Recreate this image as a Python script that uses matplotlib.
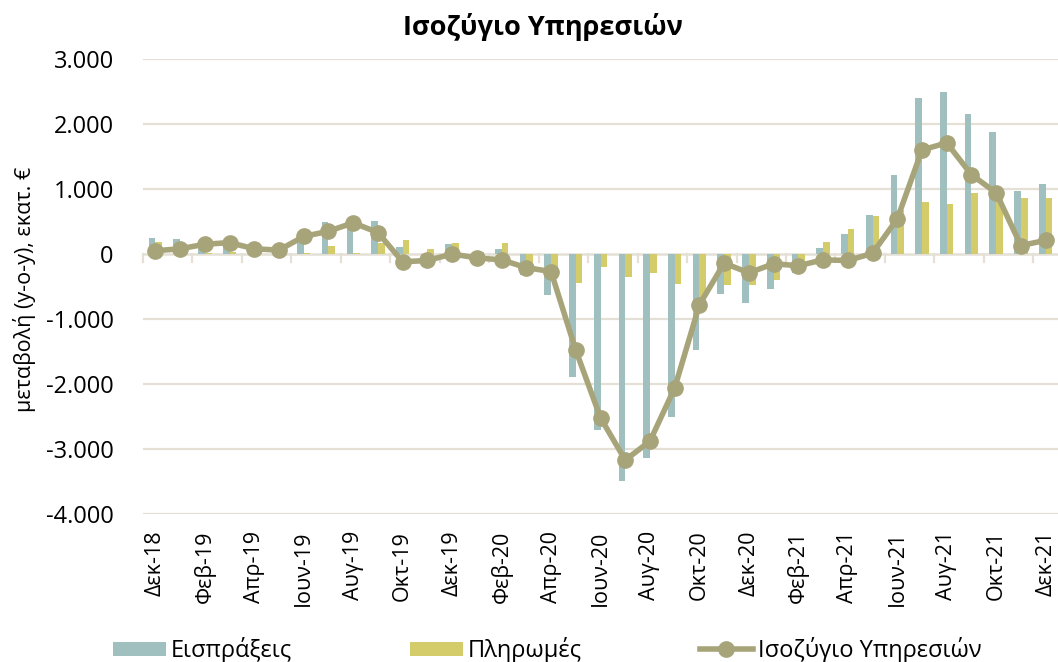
import matplotlib
matplotlib.use("Agg")
import matplotlib.pyplot as plt
import numpy as np

plt.rcParams['font.family'] = ['Open Sans', 'DejaVu Sans']

months = ["Δεκ-18", "Ιαν-19", "Φεβ-19", "Μαρ-19", "Απρ-19", "Μαϊ-19", "Ιουν-19", "Ιουλ-19",
          "Αυγ-19", "Σεπ-19", "Οκτ-19", "Νοε-19", "Δεκ-19", "Ιαν-20", "Φεβ-20", "Μαρ-20",
          "Απρ-20", "Μαϊ-20", "Ιουν-20", "Ιουλ-20", "Αυγ-20", "Σεπ-20", "Οκτ-20", "Νοε-20",
          "Δεκ-20", "Ιαν-21", "Φεβ-21", "Μαρ-21", "Απρ-21", "Μαϊ-21", "Ιουν-21", "Ιουλ-21",
          "Αυγ-21", "Σεπ-21", "Οκτ-21", "Νοε-21", "Δεκ-21"]

receipts = [240, 230, 170, 210, 110, 80, 270, 490, 495, 510, 110, -30, 150, -30, 80, -330,
            -630, -1900, -2710, -3500, -3140, -2510, -1470, -620, -760, -540, -290, 90,
            300, 600, 1220, 2400, 2490, 2150, 1880, 970, 1080]

payments = [190, 150, 20, 35, 30, 20, 10, 130, 15, 170, 220, 70, 170, 30, 170, -140,
            -370, -440, -200, -350, -290, -460, -680, -480, -480, -400, -110, 180,
            390, 580, 680, 800, 770, 940, 940, 860, 860]

balance = [50, 80, 150, 175, 80, 60, 270, 350, 480, 330, -120, -100, 0, -60, -90, -210,
           -270, -1480, -2520, -3170, -2880, -2060, -780, -140, -290, -150, -180, -90,
           -100, 10, 540, 1600, 1710, 1220, 940, 130, 210]

yticks = [-4000, -3000, -2000, -1000, 0, 1000, 2000, 3000]
ytick_labels = ["-4.000", "-3.000", "-2.000", "-1.000", "0", "1.000", "2.000", "3.000"]

c_rec = "#A0C0C0"
c_pay = "#D4CC6A"
c_bal = "#A8A47A"
c_grid = "#E4E0D6"

fig = plt.figure(figsize=(10.58, 6.62), dpi=100)
ax = fig.add_axes([143 / 1058, 1 - 514 / 662, 1 - 143 / 1058, (514 - 59) / 662])

x = np.arange(len(months))
w = 0.27
ax.bar(x - w / 2, receipts, width=w, color=c_rec, label="Εισπράξεις", zorder=2)
ax.bar(x + w / 2, payments, width=w, color=c_pay, label="Πληρωμές", zorder=2)
ax.plot(x, balance, color=c_bal, lw=4.0, marker='o', markersize=11,
        label="Ισοζύγιο Υπηρεσιών", zorder=3)

ax.set_xlim(-0.5, len(months) - 0.5)
ax.set_ylim(-4000, 3000)
ax.set_yticks(yticks)
ax.set_yticklabels(ytick_labels, fontsize=17)
for yv in yticks:
    if yv != 0:
        ax.axhline(yv, color=c_grid, lw=1.6, zorder=0)
ax.axhline(0, color=c_grid, lw=1.8, zorder=1)

# category boundary ticks at the zero line every 2 categories
for k in range(0, len(months) + 1, 2):
    ax.plot([k - 0.5, k - 0.5], [0, -120], color=c_grid, lw=1.6, zorder=1, clip_on=False)

ax.set_xticks(x[::2])
ax.set_xticklabels(months[::2], rotation=90, fontsize=15.5)
ax.tick_params(axis='x', length=0, pad=12)
ax.tick_params(axis='y', length=0, pad=21)
for s in ax.spines.values():
    s.set_visible(False)

fig.text(25 / 1058, 1 - 289 / 662, "μεταβολή (y-o-y), εκατ. €", rotation=90,
         ha='center', va='center', fontsize=15.5)

fig.text(543 / 1058, 1 - 27 / 662, "Ισοζύγιο Υπηρεσιών", ha='center', va='center',
         fontsize=19.5, fontweight='bold')

handles, labels = ax.get_legend_handles_labels()
order = [1, 2, 0]
leg = fig.legend([handles[i] for i in order], [labels[i] for i in order],
                 loc='center', bbox_to_anchor=(547 / 1058, 1 - 650 / 662), ncol=3,
                 frameon=False, fontsize=17, handlelength=2.25, handleheight=0.55,
                 columnspacing=5.0, handletextpad=0.2, borderaxespad=0)

fig.savefig("out.png", dpi=100)
